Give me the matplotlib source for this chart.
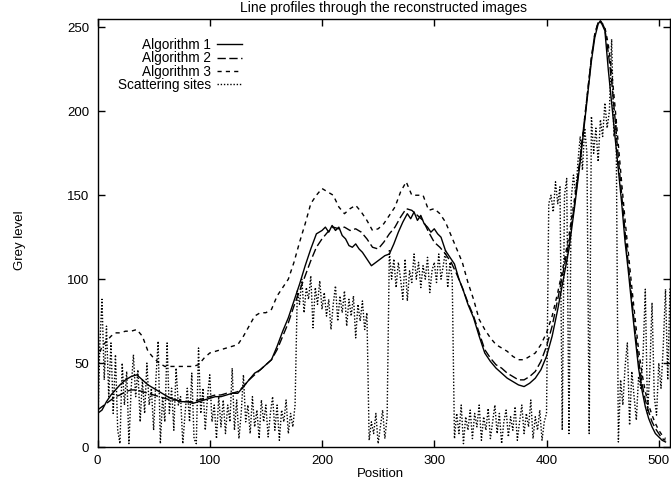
import matplotlib
matplotlib.use("Agg")
import matplotlib.pyplot as plt

plt.rcParams['font.family'] = ['Liberation Sans', 'DejaVu Sans']

# ---- data ----
alg1_x = [0, 4, 8, 12, 16, 20, 25, 30, 35, 40, 45, 50, 55, 60, 65, 70, 75, 80, 85, 90,
          95, 100, 105, 110, 115, 120, 125, 130, 135, 140, 145, 150, 155, 160, 165, 170,
          175, 180, 185, 190, 195, 200, 203, 206, 209, 212, 215, 218, 221, 224, 227, 230,
          233, 236, 240, 244, 248, 252, 256, 260, 264, 268, 272, 276, 279, 282, 285, 288,
          291, 294, 297, 300, 303, 306, 310, 314, 318, 322, 326, 330, 335, 340, 345, 350,
          355, 360, 365, 370, 375, 380, 385, 390, 395, 400, 405, 410, 415, 420, 425, 430,
          435, 440, 443, 446, 448, 450, 452, 455, 458, 461, 464, 467, 470, 473, 476, 479,
          482, 485, 488, 491, 494, 497, 500, 503, 506]
alg1_y = [20, 22, 27, 31, 34, 37, 40, 42, 43, 40, 37, 35, 33, 31, 29, 28, 27, 27, 26, 27,
          28, 29, 30, 30, 31, 32, 32, 36, 40, 44, 46, 49, 52, 60, 69, 77,
          87, 97, 108, 118, 127, 129, 131, 128, 132, 129, 131, 126, 124, 120, 119, 121,
          118, 116, 112, 108, 110, 112, 114, 115, 121, 128, 134, 139, 136, 140, 135, 138,
          133, 131, 128, 130, 127, 125, 117, 113, 109, 100, 93, 85, 77, 66, 56, 51,
          47, 44, 41, 39, 37, 36, 38, 41, 46, 54, 66, 82, 100, 118, 143, 170,
          200, 230, 244, 252, 254, 251, 248, 225, 205, 185, 165, 145, 122, 104, 84, 65,
          47, 34, 24, 17, 12, 8, 6, 4, 3]

alg2_x = [0, 4, 8, 12, 16, 20, 25, 30, 35, 40, 45, 50, 55, 60, 65, 70, 75, 80, 85, 90,
          95, 100, 105, 110, 115, 120, 125, 130, 135, 140, 145, 150, 155, 160, 165, 170,
          175, 180, 185, 190, 195, 200, 205, 210, 215, 220, 225, 230, 235, 240, 245, 250,
          255, 260, 265, 270, 275, 280, 285, 290, 295, 300, 305, 310, 315, 320, 325, 330,
          335, 340, 345, 350, 355, 360, 365, 370, 375, 380, 385, 390, 395, 400, 405, 410,
          415, 420, 425, 430, 435, 440, 443, 446, 448, 450, 452, 455, 458, 461, 464, 467,
          470, 473, 476, 479, 482, 485, 488, 491, 494, 497, 500, 503, 506]
alg2_y = [22, 24, 26, 28, 30, 31, 33, 34, 34, 33, 32, 31, 30, 29, 28, 28, 27, 27, 27, 28,
          29, 30, 31, 31, 32, 32, 33, 36, 40, 43, 46, 49, 52, 58, 66, 74,
          84, 93, 102, 111, 119, 124, 128, 131, 130, 131, 129, 130, 128, 124, 119, 118,
          122, 127, 131, 137, 142, 141, 138, 135, 128, 122, 119, 115, 110, 103, 95, 86,
          78, 68, 58, 53, 49, 47, 44, 42, 40, 40, 42, 45, 51, 60, 72, 88,
          105, 122, 145, 172, 202, 232, 246, 253, 254, 252, 249, 235, 218, 196, 172, 150,
          128, 108, 88, 69, 52, 38, 28, 21, 15, 11, 8, 5, 4]

alg3_x = [0, 4, 8, 12, 16, 20, 25, 30, 35, 40, 45, 50, 55, 60, 65, 70, 75, 80, 85, 90,
          95, 100, 105, 110, 115, 120, 125, 130, 135, 140, 145, 150, 155, 160, 165, 170,
          175, 180, 185, 190, 195, 200, 205, 210, 215, 220, 225, 230, 235, 240, 245, 250,
          255, 260, 265, 270, 275, 280, 285, 290, 295, 300, 305, 310, 315, 320, 325, 330,
          335, 340, 345, 350, 355, 360, 365, 370, 375, 380, 385, 390, 395, 400, 405, 410,
          415, 420, 425, 430, 435, 440, 443, 446, 448, 450, 452, 455, 458, 461, 464, 467,
          470, 473, 476, 479, 482, 485, 488, 491, 494, 497, 500, 503, 506]
alg3_y = [52, 60, 63, 66, 68, 68, 69, 69, 70, 66, 57, 53, 50, 48, 48, 48, 48, 48, 48, 49,
          53, 56, 57, 58, 59, 60, 61, 66, 72, 78, 80, 80, 82, 90, 95, 100,
          110, 122, 133, 145, 150, 154, 152, 150, 143, 139, 142, 144, 140, 135, 129, 130,
          133, 138, 143, 152, 158, 150, 150, 150, 141, 142, 139, 134, 126, 118, 110, 98,
          88, 76, 70, 65, 61, 59, 57, 54, 52, 52, 54, 56, 61, 68, 78, 92,
          108, 126, 148, 172, 202, 232, 246, 253, 253, 252, 250, 240, 224, 203, 180, 157,
          135, 115, 95, 76, 58, 44, 33, 25, 19, 14, 10, 7, 5]

scat_x = list(range(0, 512, 2))
scat_y = [2, 60, 88, 40, 72, 30, 62, 20, 55, 10, 2, 50, 25, 45, 2, 35, 55, 30, 46, 15,
          40, 20, 50, 25, 35, 10, 40, 63, 2, 30, 15, 62, 20, 35, 10, 47, 25, 30, 2, 20,
          35, 15, 44, 5, 2, 59, 20, 35, 10, 30, 43, 15, 25, 5, 30, 12, 28, 8, 25, 15,
          47, 10, 28, 5, 20, 43, 15, 25, 8, 30, 12, 22, 5, 28, 15, 25, 6, 20, 30, 10,
          25, 4, 22, 15, 28, 8, 20, 12, 25, 93, 85, 100, 80, 95, 88, 102, 71, 95, 85, 99,
          82, 92, 78, 88, 70, 85, 96, 75, 90, 80, 93, 72, 88, 78, 90, 65, 85, 75, 87, 70,
          80, 4, 15, 8, 20, 2, 12, 22, 5, 18, 117, 100, 112, 95, 110, 100, 88, 112, 87, 105,
          98, 115, 100, 110, 95, 108, 100, 113, 92, 105, 110, 98, 115, 100, 108, 117, 95, 110, 100, 5,
          20, 8, 25, 2, 18, 10, 22, 5, 20, 12, 25, 4, 18, 10, 23, 5, 15, 25, 8, 20,
          2, 15, 22, 6, 18, 10, 24, 4, 15, 25, 8, 20, 12, 28, 5, 18, 10, 22, 4, 15,
          20, 145, 150, 140, 158, 145, 155, 10, 150, 160, 8, 148, 162, 150, 170, 185, 165, 190, 175, 8,
          197, 175, 190, 170, 195, 185, 205, 190, 200, 243, 185, 195, 3, 40, 25, 48, 62, 13, 45, 30,
          16, 42, 35, 55, 94, 20, 45, 86, 30, 19, 50, 35, 60, 94, 40, 95]

labels = ['Algorithm 1', 'Algorithm 2', 'Algorithm 3', 'Scattering sites']

W, H = 671, 487
fig = plt.figure(figsize=(W / 100, H / 100), dpi=100)
ax = fig.add_axes([97.5 / W, 1 - 447 / H, (670 - 97.5) / W, (447 - 19) / H])

lw = 1.0
ax.plot(alg1_x, alg1_y, color='black', lw=lw, label=labels[0])
ax.plot(alg2_x, alg2_y, color='black', lw=lw, dashes=(6, 2.5), label=labels[1])
ax.plot(alg3_x, alg3_y, color='black', lw=lw, dashes=(3, 3), label=labels[2])
ax.plot(scat_x, scat_y, color='black', lw=lw, dashes=(1, 1.3), label=labels[3])

ax.set_xlim(0, 510)
ax.set_ylim(0, 255)
ax.set_xticks([0, 100, 200, 300, 400, 500])
ax.set_yticks([0, 50, 100, 150, 200, 250])
ax.tick_params(direction='in', top=True, right=True, length=5, width=1,
               labelsize=9.5, pad=6)
for s in ax.spines.values():
    s.set_linewidth(1)

leg = ax.legend(loc='upper left', bbox_to_anchor=(118 / W, 1 - 38 / H),
                bbox_transform=fig.transFigure, frameon=False, markerfirst=False,
                fontsize=9.8, handlelength=1.9, handletextpad=0.4,
                labelspacing=-0.05, borderpad=0, borderaxespad=0)

fig.text(384 / W, 1 - 8 / H, 'Line profiles through the reconstructed images',
         ha='center', va='center', fontsize=10)
fig.text(380 / W, 1 - 474 / H, 'Position', ha='center', va='center', fontsize=9.5)
fig.text(20 / W, 1 - 240 / H, 'Grey level', ha='center', va='center',
         rotation=90, fontsize=9.5)

fig.savefig('out.png', dpi=100)
